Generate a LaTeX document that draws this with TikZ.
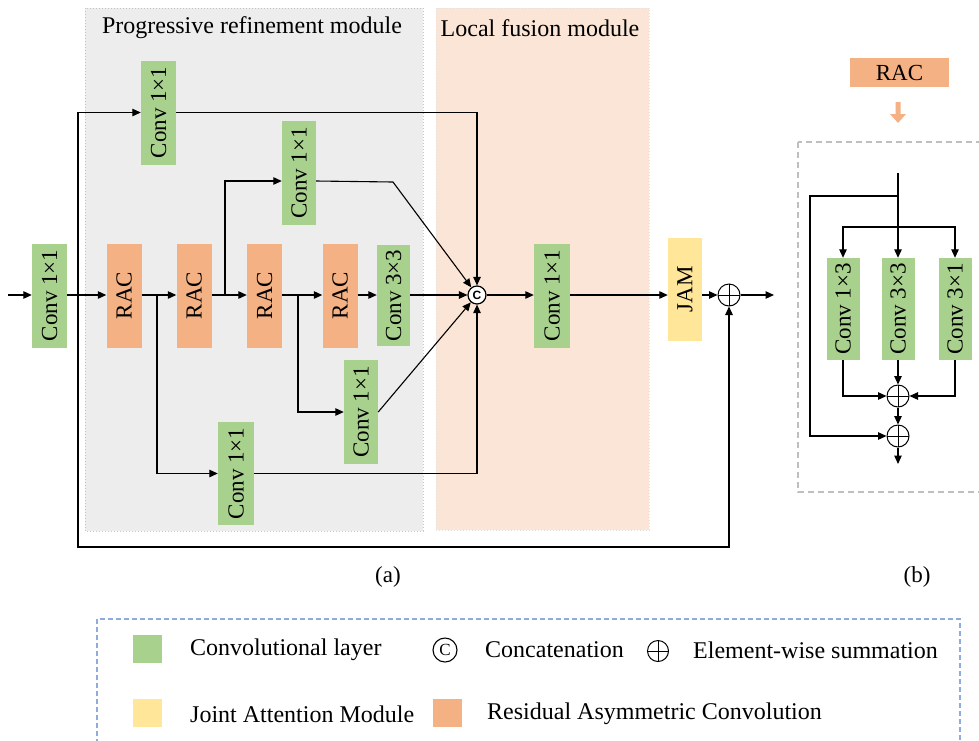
\documentclass[tikz,border=0pt]{standalone}
\usepackage{fontspec}
\setmainfont{Liberation Serif}
\newfontfamily\catfont{Liberation Sans}
\usetikzlibrary{arrows.meta}

\definecolor{convgreen}{HTML}{A9D18E}
\definecolor{racorange}{HTML}{F4B183}
\definecolor{jamyellow}{HTML}{FFE699}
\definecolor{prmgray}{HTML}{EDEDED}
\definecolor{prmborder}{HTML}{C4C4C4}
\definecolor{lfmpeach}{HTML}{FBE5D6}
\definecolor{lfmborder}{HTML}{E0E0E0}
\definecolor{legendblue}{HTML}{8FAADC}
\definecolor{boxgray}{HTML}{BFBFBF}

\newcommand{\vtext}[1]{\rotatebox{90}{#1}}

\begin{document}
\begin{tikzpicture}[x=1pt,y=-1pt,
  font=\fontsize{23}{26}\selectfont,
  bigtext/.style={font=\fontsize{24}{27}\selectfont},
  blockbase/.style={inner sep=0pt, minimum width=35pt, minimum height=104pt},
  conv/.style={blockbase, fill=convgreen},
  rac/.style={blockbase, fill=racorange},
  jamblk/.style={blockbase, fill=jamyellow},
  flow/.style={-{Triangle[length=8.5pt,width=7.5pt]}, line width=1.1pt},
  sumop/.style={circle, draw, line width=1pt, minimum size=22pt, inner sep=0pt, fill=white,
    path picture={\draw[line width=1pt]
      (path picture bounding box.north) -- (path picture bounding box.south)
      (path picture bounding box.west) -- (path picture bounding box.east);}},
  catop/.style={circle, draw, line width=1.2pt, minimum size=18pt, inner sep=0pt, fill=white,
    font=\catfont\bfseries\fontsize{12}{12}\selectfont},
  region/.style={line width=1pt, dotted},
  legsq/.style={inner sep=0pt, minimum width=29pt, minimum height=28pt},
  legtext/.style={bigtext, anchor=west, inner sep=0pt}
]
\useasboundingbox (0,0) rectangle (979,740);

% module backgrounds
\fill[prmgray] (85,8) rectangle (423,531);
\draw[region, draw=prmborder] (85,8) rectangle (423,531);
\fill[lfmpeach] (436,8) rectangle (649,530);
\draw[region, draw=lfmborder] (436,8) rectangle (649,530);
\node[bigtext] (prmtitle) at (252,28) {Progressive refinement module};
\node[bigtext] (lfmtitle) at (540,28) {Local fusion module};

% (a) blocks
\node[conv] (c0) at (49.5,295.5) {\vtext{Conv 1×1}};
\node[rac] (r1) at (124,295.5) {\vtext{RAC}};
\node[rac] (r2) at (194,295.5) {\vtext{RAC}};
\node[rac] (r3) at (264.5,295.5) {\vtext{RAC}};
\node[rac] (r4) at (340,295.5) {\vtext{RAC}};
\node[conv, minimum width=33pt, minimum height=101pt] (c33) at (393.5,295.5) {\vtext{Conv 3×3}};
\node[conv] (ct) at (158.5,112.5) {\vtext{Conv 1×1}};
\node[conv, minimum width=34pt] (cm) at (299,173) {\vtext{Conv 1×1}};
\node[conv, minimum width=36pt, minimum height=103pt] (cb) at (236,473.5) {\vtext{Conv 1×1}};
\node[conv, minimum width=34pt] (cmb) at (361,412) {\vtext{Conv 1×1}};
\node[catop] (cat) at (477,295) {C};
\node[conv, minimum width=36pt] (cf) at (552,295.5) {\vtext{Conv 1×1}};
\node[jamblk, minimum width=34pt, minimum height=103pt] (jam) at (685,289.5) {\vtext{JAM}};
\node[sumop] (sum) at (729,295) {};

% (a) junction points
\coordinate (in) at (8,295);
\coordinate (b0) at (78,295);
\coordinate (b1) at (157,295);
\coordinate (b2) at (225,295);
\coordinate (b3) at (298,295);
\coordinate (bend) at (393,182);
\coordinate (loop) at (78,547);
\coordinate (out) at (774,295);

% (a) main path
\draw[flow] (in) -- (c0.west |- in);
\draw[flow] (c0.east |- b0) -- (r1.west |- b0);
\draw[flow] (r1.east |- b0) -- (r2.west |- b0);
\draw[flow] (r2.east |- b0) -- (r3.west |- b0);
\draw[flow] (r3.east |- b0) -- (r4.west |- b0);
\draw[flow] (r4.east |- b0) -- (c33.west |- b0);
\draw[flow] (c33.east |- cat) -- (cat);
\draw[flow] (cat) -- (cf.west |- cat);
\draw[flow] (cf.east |- cat) -- (jam.west |- cat);
\draw[flow] (jam.east |- sum) -- (sum);
\draw[flow] (sum) -- (out);

% (a) branches
\draw[flow] (b0) |- (ct.west);
\draw[flow] (ct.east) -| (cat.north);
\draw[flow] (b2) |- ([yshift=-8pt]cm.west);
\draw[flow] ([yshift=-8pt]cm.east) -- (bend) -- (cat);
\draw[flow] (b3) |- (cmb.west);
\draw[flow] (cmb.east) -- (cat);
\draw[flow] (b1) |- (cb.west);
\draw[flow] (cb.east) -| (cat.south);
\draw[flow] (b0) -- (loop) -| (sum.south);

\node (lbla) at (388,577) {(a)};

% (b) residual asymmetric convolution
\node[rac, minimum width=99pt, minimum height=29pt] (racb) at (899.5,72.5) {RAC};
\fill[racorange] (895.5,102) -- (900.5,102) -- (900.5,114) -- (906,114) -- (898,123)
  -- (890,114) -- (895.5,114) -- cycle;
\draw[boxgray, line width=1.2pt, dash pattern=on 6pt off 4pt] (798,142) rectangle (995,492);

\node[conv, minimum width=33pt, minimum height=102pt] (k13) at (843,309) {\vtext{Conv 1×3}};
\node[conv, minimum width=33pt, minimum height=102pt] (k33) at (898,309) {\vtext{Conv 3×3}};
\node[conv, minimum width=33pt, minimum height=102pt] (k31) at (955,309) {\vtext{Conv 3×1}};
\node[sumop] (s1) at (898,396) {};
\node[sumop] (s2) at (898,436) {};

\coordinate (bt) at (898,173);
\coordinate (bs) at (898,196);
\coordinate (bb) at (898,227);
\coordinate (skip) at (810,196);
\coordinate (bout) at (898,464);

\draw[flow] (bt) -- (k33.north);
\draw[flow] (bb) -| (k13.north);
\draw[flow] (bb) -| (k31.north);
\draw[flow] (bs) -- (skip) |- (s2.west);
\draw[flow] (k33.south) -- (s1.north);
\draw[flow] (k13.south) |- (s1.west);
\draw[flow] (k31.south) |- (s1.east);
\draw[flow] (s1.south) -- (s2.north);
\draw[flow] (s2.south) -- (bout);

\node (lblb) at (917,577) {(b)};

% legend
\draw[legendblue, line width=1.3pt, dash pattern=on 5pt off 3pt] (97,760) -- (97,619) -- (960,619) -- (960,760);
\node[legsq, fill=convgreen] (lgconv) at (147.5,649) {};
\node[legtext] (lgconvt) at (190,650) {Convolutional layer};
\node[circle, draw, line width=1.1pt, minimum size=24pt, inner sep=0pt,
  font=\fontsize{17}{17}\selectfont] (lgcat) at (445,650) {C};
\node[legtext] (lgcatt) at (485,650) {Concatenation};
\node[sumop, minimum size=21pt] (lgsum) at (658,651) {};
\node[legtext] (lgsumt) at (693,650) {Element-wise summation};
\node[legsq, fill=jamyellow] (lgjam) at (147.5,713) {};
\node[legtext] (lgjamt) at (190,714) {Joint Attention Module};
\node[legsq, fill=racorange] (lgrac) at (447.5,713) {};
\node[legtext] (lgract) at (487,714) {Residual Asymmetric Convolution};
\end{tikzpicture}
\end{document}
